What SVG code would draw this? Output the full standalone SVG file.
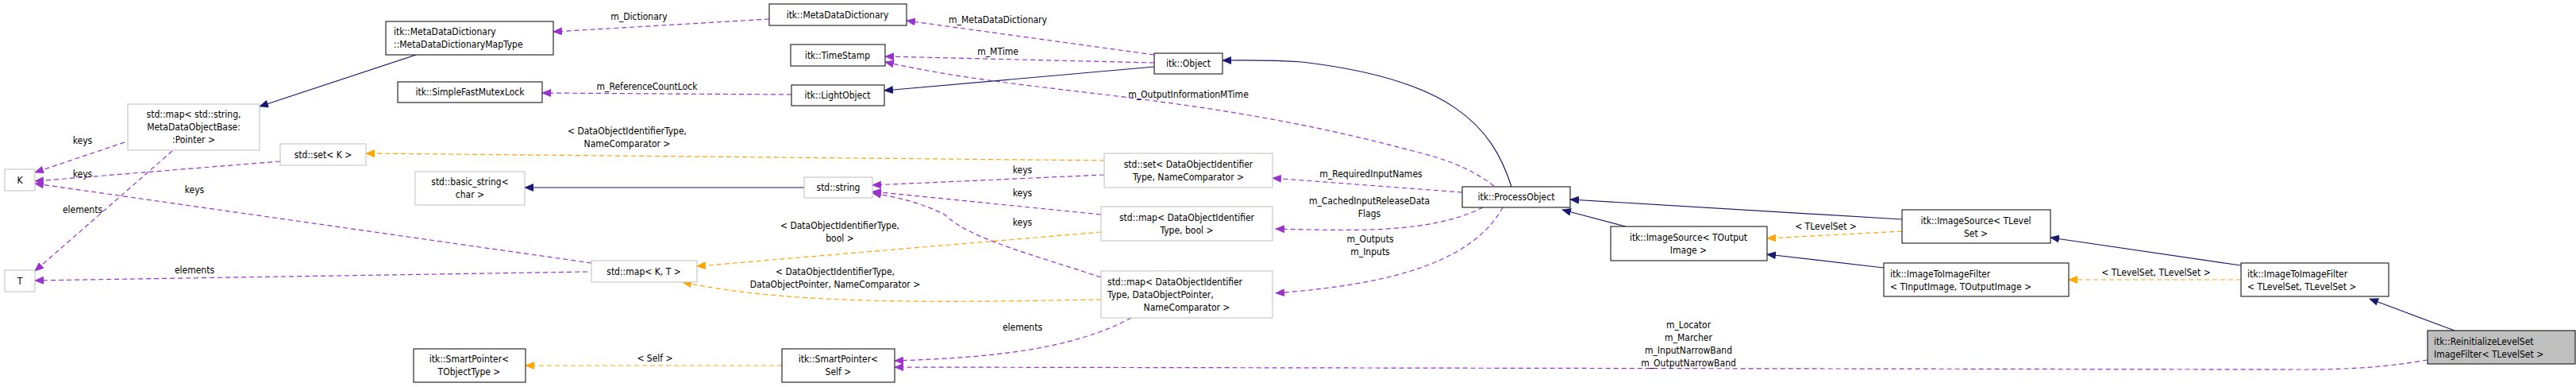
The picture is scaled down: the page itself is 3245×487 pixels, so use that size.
<svg xmlns="http://www.w3.org/2000/svg" width="3245" height="487" viewBox="0 0 3245 487">
<style>
text{font-family:"DejaVu Sans Condensed","DejaVu Sans",sans-serif;font-size:12px;fill:#000;text-anchor:middle}
.n rect{fill:#fff;stroke:#000;stroke-width:1}
.g rect{fill:#fff;stroke:#bfbfbf;stroke-width:1}
.inh{fill:none;stroke:#191970;stroke-width:1.2}
.use{fill:none;stroke:#9a32cd;stroke-width:1.2;stroke-dasharray:6,4}
.tpl{fill:none;stroke:#ffa500;stroke-width:1.2;stroke-dasharray:6,4}
</style>
<defs>
<marker id="ai" markerWidth="12" markerHeight="10" refX="11" refY="5" orient="auto" markerUnits="userSpaceOnUse"><path d="M0,0L12,5L0,10z" fill="#191970"/></marker>
<marker id="au" markerWidth="12" markerHeight="10" refX="11" refY="5" orient="auto" markerUnits="userSpaceOnUse"><path d="M0,0L12,5L0,10z" fill="#9a32cd"/></marker>
<marker id="at" markerWidth="12" markerHeight="10" refX="11" refY="5" orient="auto" markerUnits="userSpaceOnUse"><path d="M0,0L12,5L0,10z" fill="#ffa500"/></marker>
</defs>
<g id="edges">
<path class="inh" marker-end="url(#ai)" d="M3092,416L2985,376"/>
<path class="inh" marker-end="url(#ai)" d="M2823,334L2583,299"/>
<path class="tpl" marker-end="url(#at)" d="M2823,352L2606,352"/>
<path class="inh" marker-end="url(#ai)" d="M2396,276L1978,251"/>
<path class="tpl" marker-end="url(#at)" d="M2396,291L2226,300"/>
<path class="inh" marker-end="url(#ai)" d="M2373,337L2226,320"/>
<path class="inh" marker-end="url(#ai)" d="M2048,285L1968,264"/>
<path class="inh" marker-end="url(#ai)" d="M1904,235C1880,160 1830,100 1640,78C1600,75 1570,76 1540,76"/>
<path class="inh" marker-end="url(#ai)" d="M1454,84L1114,114"/>
<path class="inh" marker-end="url(#ai)" d="M1013,236L661,236"/>
<path class="inh" marker-end="url(#ai)" d="M524,69L327,134"/>
<path class="use" marker-end="url(#au)" d="M1454,69L1142,26"/>
<path class="use" marker-end="url(#au)" d="M1454,79L1115,71"/>
<path class="use" marker-end="url(#au)" d="M1882,234C1850,210 1820,200 1780,190C1500,115 1300,120 1115,78"/>
<path class="use" marker-end="url(#au)" d="M969,24L697,40"/>
<path class="use" marker-end="url(#au)" d="M997,119L683,117"/>
<path class="use" marker-end="url(#au)" d="M1842,242L1603,224"/>
<path class="use" marker-end="url(#au)" d="M1868,261C1800,295 1700,290 1607,288"/>
<path class="use" marker-end="url(#au)" d="M1893,261C1850,340 1720,360 1607,369"/>
<path class="use" marker-end="url(#au)" d="M1391,220L1099,233"/>
<path class="use" marker-end="url(#au)" d="M1387,270L1099,241"/>
<path class="use" marker-end="url(#au)" d="M1387,349C1300,320 1220,300 1190,270C1160,255 1130,248 1099,243"/>
<path class="use" marker-end="url(#au)" d="M1425,400C1350,440 1250,450 1127,454"/>
<path class="use" marker-end="url(#au)" d="M3058,453C3000,463 2950,465 2900,465L1127,462"/>
<path class="use" marker-end="url(#au)" d="M157,179L44,217"/>
<path class="use" marker-end="url(#au)" d="M217,190L44,341"/>
<path class="use" marker-end="url(#au)" d="M353,203L44,228"/>
<path class="use" marker-end="url(#au)" d="M745,331L44,231"/>
<path class="use" marker-end="url(#au)" d="M740,342L44,353"/>
<path class="tpl" marker-end="url(#at)" d="M1391,202L461,193"/>
<path class="tpl" marker-end="url(#at)" d="M1387,292L878,335"/>
<path class="tpl" marker-end="url(#at)" d="M1387,377C1200,380 1000,385 860,355"/>
<path class="tpl" marker-end="url(#at)" d="M985,460L662,460"/>
<text x="2716" y="347">&lt; TLevelSet, TLevelSet &gt;</text>
<text x="2300" y="289">&lt; TLevelSet &gt;</text>
<text x="1257" y="29">m_MetaDataDictionary</text>
<text x="1257" y="69">m_MTime</text>
<text x="1497" y="123">m_OutputInformationMTime</text>
<text x="805" y="25">m_Dictionary</text>
<text x="815" y="113">m_ReferenceCountLock</text>
<text x="1727" y="223">m_RequiredInputNames</text>
<text x="1725" y="257">m_CachedInputReleaseData</text>
<text x="1725" y="273">Flags</text>
<text x="1726" y="305">m_Outputs</text>
<text x="1726" y="321">m_Inputs</text>
<text x="1288" y="218">keys</text>
<text x="1288" y="247">keys</text>
<text x="1288" y="284">keys</text>
<text x="1288" y="416">elements</text>
<text x="2127" y="413">m_Locator</text>
<text x="2127" y="429">m_Marcher</text>
<text x="2127" y="445">m_InputNarrowBand</text>
<text x="2127" y="461">m_OutputNarrowBand</text>
<text x="104" y="181">keys</text>
<text x="104" y="268">elements</text>
<text x="104" y="223">keys</text>
<text x="245" y="243">keys</text>
<text x="245" y="344">elements</text>
<text x="790" y="169">&lt; DataObjectIdentifierType,</text>
<text x="790" y="185">NameComparator &gt;</text>
<text x="1058" y="288">&lt; DataObjectIdentifierType,</text>
<text x="1058" y="304">bool &gt;</text>
<text x="1052" y="346">&lt; DataObjectIdentifierType,</text>
<text x="1052" y="362">DataObjectPointer, NameComparator &gt;</text>
<text x="825" y="455">&lt; Self &gt;</text>
</g>
<g id="reinit"><rect x="3058" y="416" width="186" height="42" fill="#bfbfbf" stroke="#000"/><text x="3066" y="434" style="text-anchor:start">itk::ReinitializeLevelSet</text><text x="3066" y="450" style="text-anchor:start">ImageFilter&lt; TLevelSet &gt;</text></g>
<g id="itif_ls" class="n"><rect x="2823" y="331" width="186" height="42"/><text x="2831" y="349" style="text-anchor:start">itk::ImageToImageFilter</text><text x="2831" y="365" style="text-anchor:start">&lt; TLevelSet, TLevelSet &gt;</text></g>
<g id="itif" class="n"><rect x="2373" y="331" width="233" height="42"/><text x="2381" y="349" style="text-anchor:start">itk::ImageToImageFilter</text><text x="2381" y="365" style="text-anchor:start">&lt; TInputImage, TOutputImage &gt;</text></g>
<g id="is_ls" class="n"><rect x="2396" y="264" width="187" height="42"/><text x="2489" y="282">itk::ImageSource&lt; TLevel</text><text x="2489" y="298">Set &gt;</text></g>
<g id="is" class="n"><rect x="2029" y="285" width="197" height="43"/><text x="2127" y="303">itk::ImageSource&lt; TOutput</text><text x="2127" y="319">Image &gt;</text></g>
<g id="po" class="n"><rect x="1842" y="235" width="136" height="26"/><text x="1910" y="252">itk::ProcessObject</text></g>
<g id="obj" class="n"><rect x="1454" y="67" width="86" height="26"/><text x="1497" y="84">itk::Object</text></g>
<g id="mdd" class="n"><rect x="969" y="5" width="173" height="27"/><text x="1055" y="23">itk::MetaDataDictionary</text></g>
<g id="ts" class="n"><rect x="996" y="56" width="119" height="27"/><text x="1055" y="74">itk::TimeStamp</text></g>
<g id="lo" class="n"><rect x="997" y="107" width="117" height="26"/><text x="1055" y="124">itk::LightObject</text></g>
<g id="mddmap" class="n"><rect x="486" y="27" width="211" height="42"/><text x="496" y="44" style="text-anchor:start">itk::MetaDataDictionary</text><text x="496" y="60" style="text-anchor:start">::MetaDataDictionaryMapType</text></g>
<g id="sfml" class="n"><rect x="501" y="103" width="182" height="26"/><text x="592" y="120">itk::SimpleFastMutexLock</text></g>
<g id="spto" class="n"><rect x="521" y="439" width="141" height="42"/><text x="591" y="456">itk::SmartPointer&lt;</text><text x="591" y="472">TObjectType &gt;</text></g>
<g id="sps" class="n"><rect x="985" y="439" width="142" height="42"/><text x="1056" y="456">itk::SmartPointer&lt;</text><text x="1056" y="472">Self &gt;</text></g>
<g id="setdoi" class="g"><rect x="1391" y="193" width="212" height="43"/><text x="1497" y="211">std::set&lt; DataObjectIdentifier</text><text x="1497" y="227">Type, NameComparator &gt;</text></g>
<g id="mapbool" class="g"><rect x="1387" y="260" width="216" height="43"/><text x="1495" y="278">std::map&lt; DataObjectIdentifier</text><text x="1495" y="294">Type, bool &gt;</text></g>
<g id="mapdop" class="g"><rect x="1387" y="341" width="216" height="59"/><text x="1395" y="359" style="text-anchor:start">std::map&lt; DataObjectIdentifier</text><text x="1395" y="375" style="text-anchor:start">Type, DataObjectPointer,</text><text x="1495" y="391">NameComparator &gt;</text></g>
<g id="str" class="g"><rect x="1013" y="223" width="86" height="26"/><text x="1056" y="240">std::string</text></g>
<g id="bstr" class="g"><rect x="523" y="216" width="138" height="42"/><text x="592" y="233">std::basic_string&lt;</text><text x="592" y="249">char &gt;</text></g>
<g id="mapkt" class="g"><rect x="745" y="328" width="133" height="27"/><text x="811" y="346">std::map&lt; K, T &gt;</text></g>
<g id="setk" class="g"><rect x="353" y="181" width="108" height="27"/><text x="407" y="199">std::set&lt; K &gt;</text></g>
<g id="mapstr" class="g"><rect x="161" y="131" width="166" height="58"/><text x="244" y="148">std::map&lt; std::string,</text><text x="244" y="164">MetaDataObjectBase:</text><text x="244" y="180">:Pointer &gt;</text></g>
<g id="k" class="g"><rect x="6" y="213" width="38" height="27"/><text x="25" y="231">K</text></g>
<g id="t" class="g"><rect x="6" y="340" width="38" height="27"/><text x="25" y="358">T</text></g>
</svg>
